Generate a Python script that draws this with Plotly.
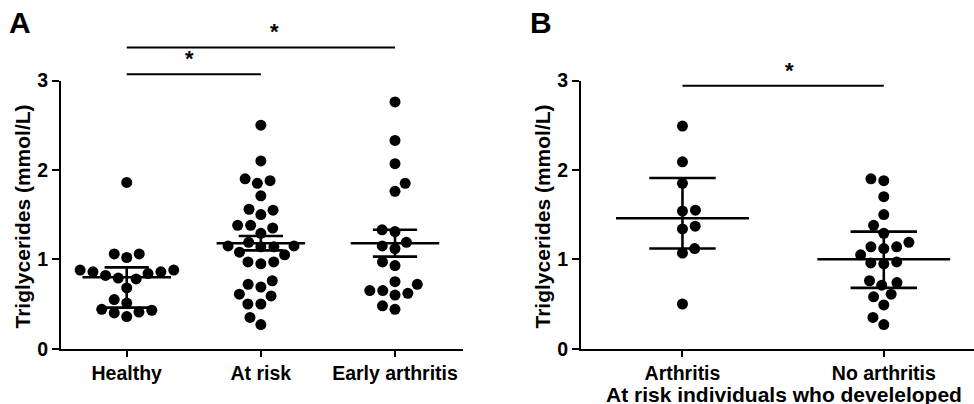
import math
import plotly.graph_objects as go

# ---------------- data ----------------
groups_a = ["Healthy", "At risk", "Early arthritis"]
healthy = [1.86, 1.06, 1.02, 1.06, 0.88, 0.86, 0.82, 0.79, 0.78, 0.84, 0.86, 0.88,
           0.68, 0.55, 0.44, 0.41, 0.36, 0.40, 0.43, 0.51]
at_risk = [2.50, 2.10, 1.88, 1.85, 1.90, 1.71, 1.50, 1.55, 1.56, 1.38, 1.35, 1.38,
           1.29, 1.19, 1.14, 1.15, 1.14, 1.15, 1.05, 1.08, 0.97, 0.95, 0.97, 0.76,
           0.69, 0.72, 0.61, 0.59, 0.50, 0.50, 0.35, 0.27]
early_arthritis = [2.76, 2.33, 2.07, 1.85, 1.76, 1.31, 1.33, 1.15, 1.12, 1.19, 0.93,
                   0.97, 0.72, 0.75, 0.65, 0.60, 0.62, 0.65, 0.44, 0.48]
center_a = [0.80, 1.18, 1.18]
upper_a = [0.91, 1.26, 1.33]
lower_a = [0.46, 1.10, 1.03]

groups_b = ["Arthritis", "No arthritis"]
arthritis = [2.49, 2.09, 1.85, 1.55, 1.54, 1.34, 1.37, 1.12, 1.07, 0.50]
no_arthritis = [1.90, 1.88, 1.70, 1.50, 1.38, 1.29, 1.14, 1.12, 1.14, 1.19, 1.05, 0.97,
                0.95, 0.96, 0.76, 0.71, 0.74, 0.58, 0.61, 0.49, 0.35, 0.27]
center_b = [1.46, 1.00]
upper_b = [1.91, 1.31]
lower_b = [1.12, 0.68]

y_ticks = [0, 1, 2, 3]
y_title = "Triglycerides (mmol/L)"
x_title_b = "At risk individuals who develeloped"

# significance brackets: (from group, to group, level, star x)
sig_a = [(0, 2, 3.37, 1.10), (0, 1, 3.07, 0.47)]
sig_b = [(0, 1, 2.94, 0.53)]

# ---------------- layout constants ----------------
W, H = 974, 404
FONT = "Liberation Sans, Arial, sans-serif"
dom_xa = [61 / W, 463 / W]
dom_xb = [581 / W, 1.0]
dom_y = [(H - 348.7) / H, (H - 80.5) / H]
range_xa = [-0.49, 2.507]
range_xb = [-0.504, 1.448]
range_y = [0, 3]
DOT = 11
HALF_MED = 0.33
HALF_CAP = 0.165


def px_per_unit(dom, rng, total):
    return (dom[1] - dom[0]) * total / (rng[1] - rng[0])


def swarm(values, center, ppx, ppy, diam):
    placed = []
    xs = [center] * len(values)
    order = sorted(range(len(values)), key=lambda i: values[i])
    for n, i in enumerate(order):
        yp = values[i] * ppy
        intervals = []
        for xp, yq in placed:
            dy = abs(yp - yq)
            if dy < diam:
                dx = math.sqrt(diam * diam - dy * dy)
                intervals.append((xp - dx, xp + dx))
        cands = [0.0] + [a for a, b in intervals] + [b for a, b in intervals]
        sign = 1 if n % 2 else -1
        cands.sort(key=lambda c: (round(abs(c), 6), sign * c))
        chosen = 0.0
        for c in cands:
            if all(not (a + 1e-6 < c < b - 1e-6) for a, b in intervals):
                chosen = c
                break
        placed.append((chosen, yp))
        xs[i] = center + chosen / ppx
    return xs


fig = go.Figure()

ppy = px_per_unit(dom_y, range_y, H)


def add_panel(series, centers, uppers, lowers, xa, ya, dom_x, rng_x):
    ppx = px_per_unit(dom_x, rng_x, W)
    for k, vals in enumerate(series):
        xs = swarm(vals, k, ppx, ppy, DOT + 2)
        fig.add_trace(go.Scatter(x=xs, y=vals, mode="markers", xaxis=xa, yaxis=ya,
                                 marker=dict(size=DOT, color="black"),
                                 showlegend=False, hoverinfo="y"))
    for k in range(len(series)):
        lx, ly = [], []
        lx += [k - HALF_MED, k + HALF_MED, None]
        ly += [centers[k], centers[k], None]
        lx += [k, k, None]
        ly += [lowers[k], uppers[k], None]
        lx += [k - HALF_CAP, k + HALF_CAP, None, k - HALF_CAP, k + HALF_CAP]
        ly += [uppers[k], uppers[k], None, lowers[k], lowers[k]]
        fig.add_trace(go.Scatter(x=lx, y=ly, mode="lines", xaxis=xa, yaxis=ya,
                                 line=dict(color="black", width=2.6),
                                 showlegend=False, hoverinfo="skip"))


add_panel([healthy, at_risk, early_arthritis], center_a, upper_a, lower_a,
          "x", "y", dom_xa, range_xa)
add_panel([arthritis, no_arthritis], center_b, upper_b, lower_b,
          "x2", "y2", dom_xb, range_xb)


def ypaper(v):
    return dom_y[0] + (v - range_y[0]) / (range_y[1] - range_y[0]) * (dom_y[1] - dom_y[0])


shapes, annos = [], []
for xref, sigs in (("x", sig_a), ("x2", sig_b)):
    for g0, g1, lvl, sx in sigs:
        shapes.append(dict(type="line", xref=xref, yref="paper", x0=g0, x1=g1,
                           y0=ypaper(lvl), y1=ypaper(lvl),
                           line=dict(color="black", width=2)))
        annos.append(dict(xref=xref, yref="paper", x=sx, y=ypaper(lvl) + 1 / H,
                          text="<b>*</b>", showarrow=False, yanchor="bottom",
                          font=dict(family=FONT, size=22, color="black")))

# panel letters
annos.append(dict(xref="paper", yref="paper", x=7 / W, y=1 - 4 / H, text="<b>A</b>",
                  showarrow=False, xanchor="left", yanchor="top",
                  font=dict(family=FONT, size=30, color="black")))
annos.append(dict(xref="paper", yref="paper", x=528 / W, y=1 - 4 / H, text="<b>B</b>",
                  showarrow=False, xanchor="left", yanchor="top",
                  font=dict(family=FONT, size=30, color="black")))
# y titles
for cx in (22, 542):
    annos.append(dict(xref="paper", yref="paper", x=cx / W, y=(H - 216.5) / H,
                      text="<b>" + y_title + "</b>", textangle=-90, showarrow=False,
                      xanchor="center", yanchor="middle",
                      font=dict(family=FONT, size=21, color="black")))
# x title panel B
annos.append(dict(xref="paper", yref="paper", x=784 / W, y=(H - 394) / H,
                  text="<b>" + x_title_b + "</b>", showarrow=False,
                  xanchor="center", yanchor="middle",
                  font=dict(family=FONT, size=21, color="black")))

axis_common = dict(showline=True, linecolor="black", linewidth=2, showgrid=False,
                   zeroline=False, ticks="outside", tickwidth=2, tickcolor="black",
                   tickfont=dict(family=FONT, size=19.5, color="black", weight="bold"),
                   fixedrange=True, automargin=False)

fig.update_layout(
    width=W, height=H, margin=dict(l=0, r=0, t=0, b=0, autoexpand=False),
    paper_bgcolor="white", plot_bgcolor="white", showlegend=False,
    xaxis=dict(domain=dom_xa, range=range_xa, anchor="y", tickvals=[0, 1, 2],
               ticktext=groups_a, ticklen=6, **axis_common),
    yaxis=dict(domain=dom_y, range=range_y, anchor="x", tickvals=y_ticks,
               ticklen=7, **axis_common),
    xaxis2=dict(domain=dom_xb, range=range_xb, anchor="y2", tickvals=[0, 1],
                ticktext=groups_b, ticklen=6, **axis_common),
    yaxis2=dict(domain=dom_y, range=range_y, anchor="x2", tickvals=y_ticks,
                ticklen=7, **axis_common),
    shapes=shapes, annotations=annos,
)

fig.write_html(
    "out.html",
    config={"displayModeBar": False},
    post_script="document.body.style.margin='0';document.body.style.overflow='hidden';",
)
